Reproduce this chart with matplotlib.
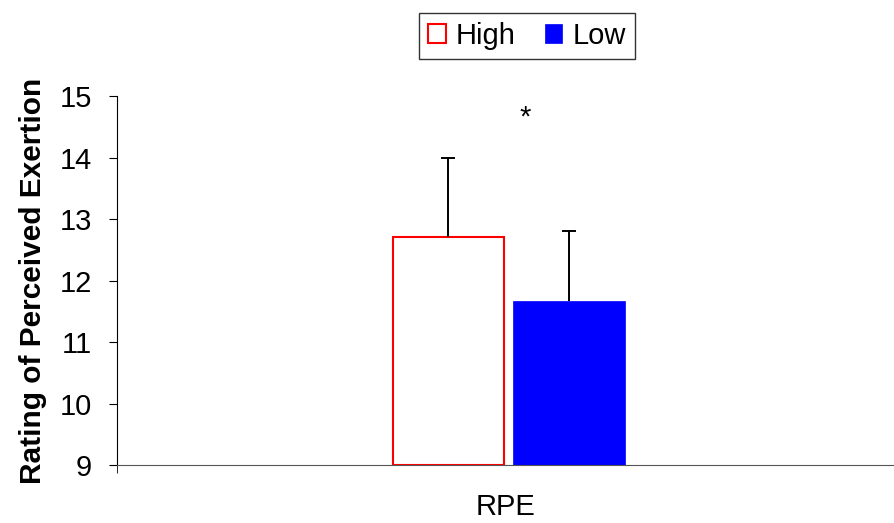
import numpy as np
import matplotlib.pyplot as plt

plt.rcParams['font.family'] = ['Liberation Sans', 'DejaVu Sans']

groups = ['High', 'Low']
means = [12.7, 11.67]
sd = [1.3, 1.13]
category = 'RPE'
yticks = [9, 10, 11, 12, 13, 14, 15]

fig = plt.figure(figsize=(8.95, 5.23), dpi=100)
ax = fig.add_axes([0.1307, 0.1109, 0.8693, 0.7055])

xpos = np.array([0.426, 0.581])
width = 0.143
base = 9
means = np.array(means)
sd = np.array(sd)

bh = ax.bar(xpos[0], means[0] - base, width, bottom=base, facecolor='white',
            edgecolor='red', linewidth=1.5, label=groups[0])
bl = ax.bar(xpos[1], means[1] - base, width, bottom=base, facecolor='blue',
            edgecolor='blue', linewidth=0.5, label=groups[1])
# upper error bars only
ax.vlines(xpos, means, means + sd, color='black', linewidth=1.4)
ax.hlines(means + sd, xpos - 0.009, xpos + 0.009, color='black', linewidth=1.4)

ax.text(0.525, 14.65, '*', ha='center', va='center', fontsize=21)

ax.set_xlim(0, 1)
ax.set_ylim(9, 15)
ax.set_yticks(yticks)
ax.set_xticks([0.5])
ax.set_xticklabels([category])
ax.set_xticks([0, 1], minor=True)
ax.tick_params(axis='x', which='major', length=0, pad=20, labelsize=21)
ax.tick_params(axis='x', which='minor', length=6, direction='out')
ax.tick_params(axis='y', length=6, direction='out', labelsize=21, pad=12)
ax.spines['top'].set_visible(False)
ax.spines['right'].set_visible(False)
ax.spines['bottom'].set_color('#555555')
ax.set_ylabel('Rating of Perceived Exertion', fontsize=21.5, fontweight='bold', labelpad=9)

leg = fig.legend(handles=[bh, bl], loc='upper center', bbox_to_anchor=(0.589, 0.975),
                 ncol=2, fontsize=21, frameon=True, fancybox=False, edgecolor='black',
                 handlelength=0.6, handleheight=0.6, handletextpad=0.35, columnspacing=1.0,
                 borderpad=0.3, borderaxespad=0.0)
leg.get_frame().set_linewidth(1.0)

fig.savefig('out.png', dpi=100)
